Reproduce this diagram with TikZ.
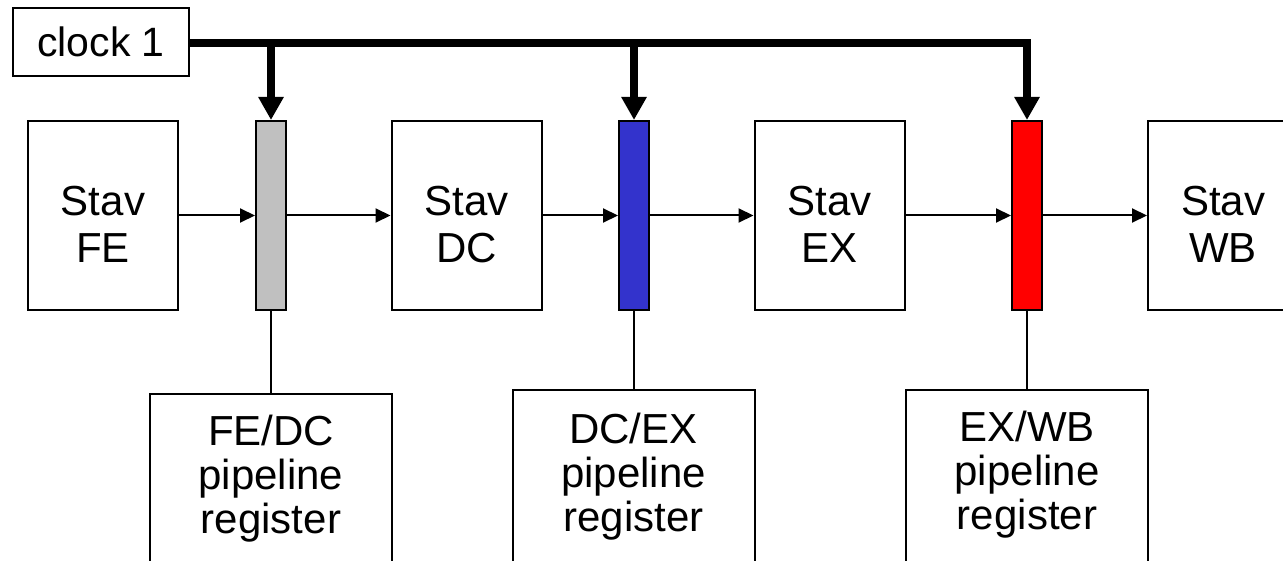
\documentclass[tikz,border=0pt]{standalone}
\usepackage{fontspec}
\setmainfont{Liberation Sans}
\usetikzlibrary{arrows.meta}
\definecolor{reggray}{HTML}{C0C0C0}
\definecolor{regblue}{HTML}{3333CC}
\definecolor{regred}{HTML}{FF0000}
\tikzset{
  x=0.5pt, y=-0.5pt,
  stagebox/.style={draw, line width=1pt, minimum width=75pt, minimum height=94.5pt,
    inner sep=0pt},
  stagetext/.style={inner sep=0pt, anchor=north, align=center,
    font=\fontsize{21pt}{23.5pt}\selectfont},
  regbox/.style={draw, line width=1pt, minimum width=15pt, minimum height=94.5pt, inner sep=0pt},
  pipebox/.style={draw, line width=1pt, minimum width=121pt, minimum height=100pt,
    inner sep=0pt, anchor=north},
  pipetext/.style={inner sep=0pt, anchor=north, align=center,
    font=\fontsize{21pt}{22pt}\selectfont},
  clockbox/.style={draw, line width=1pt, minimum width=88pt, minimum height=34pt,
    inner sep=0pt, font=\fontsize{20.5pt}{24pt}\selectfont},
  flow/.style={line width=1pt, -{Triangle[length=7.5pt,width=7pt]}},
  clk/.style={line width=4pt, line join=miter, -{Triangle[length=11.5pt,width=12pt]}},
  link/.style={line width=1pt}
}
\begin{document}
\begin{tikzpicture}
\useasboundingbox (0,0) rectangle (1283,561);
\clip (0,0) rectangle (1283,561);
% clock
\node[clockbox] (clock) at (101,42) {clock 1};
% stages
\node[stagebox] (fe) at (103,215.5) {};
\node[stagebox] (dc) at (466.5,215.5) {};
\node[stagebox] (ex) at (829.5,215.5) {};
\node[stagebox] (wb) at (1223,215.5) {};
\node[stagetext] (fet) at ([yshift=-33pt]fe.north) {Stav\\FE};
\node[stagetext] (dct) at ([yshift=-33pt]dc.north) {Stav\\DC};
\node[stagetext] (ext) at ([yshift=-33pt]ex.north) {Stav\\EX};
\node[stagetext] (wbt) at ([yshift=-33pt]wb.north) {Stav\\WB};
% registers
\node[regbox, fill=reggray] (r1) at (271,215.5) {};
\node[regbox, fill=regblue] (r2) at (634,215.5) {};
\node[regbox, fill=regred] (r3) at (1027,215.5) {};
% pipeline register boxes
\node[pipebox] (p1) at (271,393) {};
\node[pipebox] (p2) at (633.5,389) {};
\node[pipebox] (p3) at (1027,389) {};
\node[pipetext] (t1) at ([yshift=-11pt]p1.north) {FE/DC\\pipeline\\register};
\node[pipetext] (t2) at ([yshift=-12pt]p2.north) {DC/EX\\pipeline\\register};
\node[pipetext] (t3) at ([yshift=-11pt]p3.north) {EX/WB\\pipeline\\register};
% data flow
\draw[flow] (fe) -- (r1);
\draw[flow] (r1) -- (dc);
\draw[flow] (dc) -- (r2);
\draw[flow] (r2) -- (ex);
\draw[flow] (ex) -- (r3);
\draw[flow] (r3) -- (wb);
% links to register descriptions
\draw[link] (r1.south) -- (p1.north);
\draw[link] (r2.south) -- (r2.south |- p2.north);
\draw[link] (r3.south) -- (p3.north);
% clock lines
\coordinate (ck) at ([yshift=-0.5pt]clock.east);
\draw[clk] (ck) -- (r3.north |- ck) -- (r3.north);
\draw[clk] (r1.north |- ck) -- (r1.north);
\draw[clk] (r2.north |- ck) -- (r2.north);
\end{tikzpicture}
\end{document}
